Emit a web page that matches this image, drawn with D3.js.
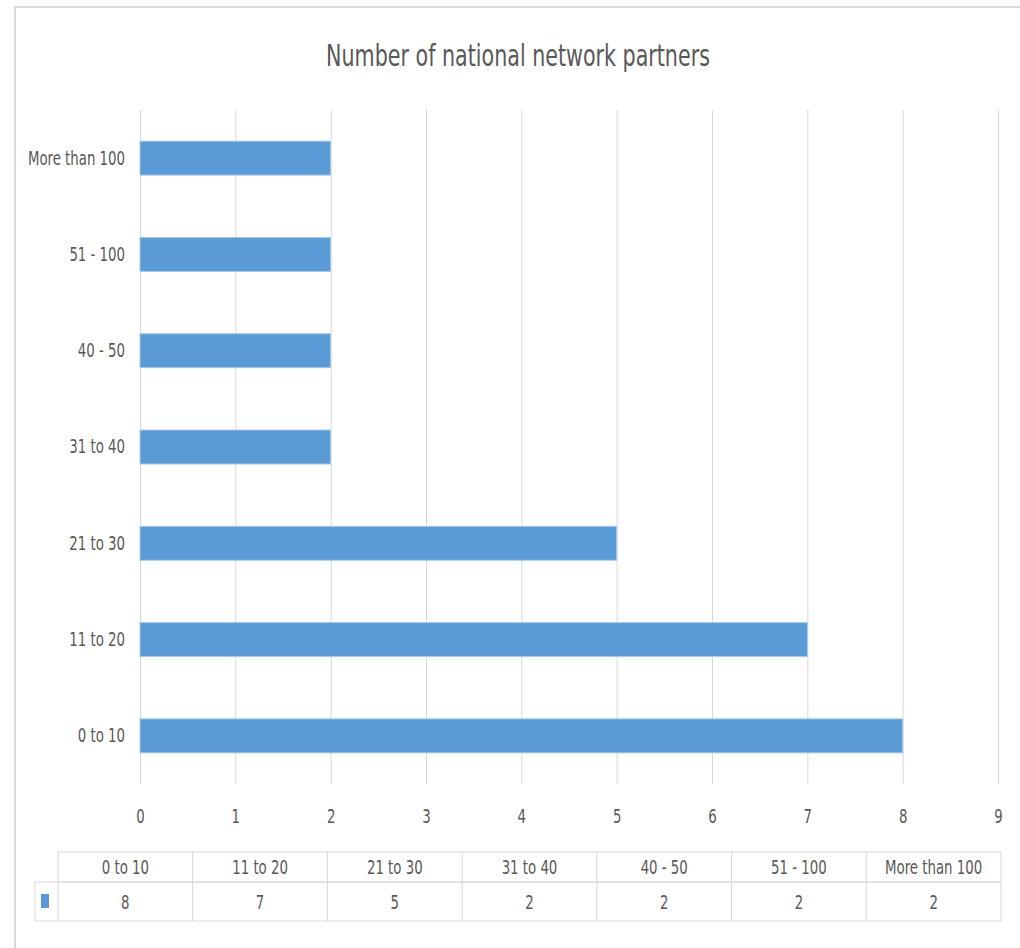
<!DOCTYPE html>
<html>
<head>
<meta charset="utf-8">
<script src="https://cdn.jsdelivr.net/npm/d3@7"></script>
<style>
  body { margin: 0; background: #fff; }
  svg { display: block; }
  text { font-family: 'Liberation Sans Narrow', 'Arial Narrow', 'DejaVu Sans Condensed', sans-serif; fill: #595959; }
</style>
</head>
<body>
<svg id="chart"></svg>
<script>
// Data
const categories = ['0 to 10', '11 to 20', '21 to 30', '31 to 40', '40 - 50', '51 - 100', 'More than 100'];
const values = [8, 7, 5, 2, 2, 2, 2];
const xTicks = [0, 1, 2, 3, 4, 5, 6, 7, 8, 9];
const title = 'Number of national network partners';

const data = categories.map((c, i) => ({ category: c, value: values[i] }));

const width = 1020, height = 948;
const plot = { left: 140, right: 998, top: 110, bottom: 784 };
const barColor = '#5b9bd5';
const gridColor = '#d9d9d9';
const squeezeFactor = 0.74; // the original font is a narrow one

const svg = d3.select('#chart')
  .attr('width', width)
  .attr('height', height);

// squash text horizontally so the wide fallback font looks narrow
function squeeze(sel) {
  sel.each(function() {
    const len = this.getComputedTextLength();
    d3.select(this)
      .attr('textLength', len * squeezeFactor)
      .attr('lengthAdjust', 'spacingAndGlyphs');
  });
}

// outer chart border (only top and left are inside the picture)
svg.append('path')
  .attr('d', `M15,${height} L15,7 L${width},7`)
  .attr('fill', 'none')
  .attr('stroke', gridColor)
  .attr('stroke-width', 2);

// Title
svg.append('text')
  .attr('x', 518)
  .attr('y', 66)
  .attr('text-anchor', 'middle')
  .style('font-size', '31px')
  .text(title)
  .call(squeeze);

// Scales
const xScale = d3.scaleLinear()
  .domain([0, 9])
  .range([plot.left, plot.right]);

const yScale = d3.scaleBand()
  .domain(categories.slice().reverse())
  .range([plot.top, plot.bottom])
  .paddingInner(0.647)
  .paddingOuter(0.3235);

// Vertical gridlines + tick labels
const xAxis = svg.append('g')
  .attr('class', 'x-axis')
  .attr('transform', `translate(0,${plot.bottom})`)
  .call(d3.axisBottom(xScale).tickValues(xTicks).tickSize(-(plot.bottom - plot.top)).tickPadding(25).tickFormat(d3.format('d')));

xAxis.select('.domain').remove();
xAxis.selectAll('.tick line').attr('stroke', gridColor).attr('stroke-width', 1);
xAxis.selectAll('.tick text')
  .attr('fill', '#595959')
  .style('font-size', '20px')
  .style('font-family', null)
  .call(squeeze);

// Bars
svg.selectAll('.bar')
  .data(data)
  .enter().append('rect')
  .attr('class', 'bar')
  .attr('x', xScale(0))
  .attr('y', d => yScale(d.category))
  .attr('width', d => xScale(d.value) - xScale(0))
  .attr('height', yScale.bandwidth())
  .attr('fill', barColor)
  .attr('stroke', '#a9c9ea')
  .attr('stroke-width', 1);

// Category labels
const yAxis = svg.append('g')
  .attr('class', 'y-axis')
  .attr('transform', `translate(${plot.left},0)`)
  .call(d3.axisLeft(yScale).tickSize(0).tickPadding(15));

yAxis.select('.domain').remove();
yAxis.selectAll('.tick text')
  .attr('fill', '#595959')
  .style('font-size', '20px')
  .style('font-family', null)
  .call(squeeze);

// Data table under the chart
const table = { left: 58, right: 1001, keyLeft: 35, top: 852, mid: 882, bottom: 921 };
const colScale = d3.scaleBand()
  .domain(categories)
  .range([table.left, table.right]);

const tg = svg.append('g').attr('class', 'data-table');

// header row border
tg.append('rect')
  .attr('x', table.left)
  .attr('y', table.top)
  .attr('width', table.right - table.left)
  .attr('height', table.mid - table.top)
  .attr('fill', 'none')
  .attr('stroke', gridColor);

// value row border (includes legend key cell)
tg.append('rect')
  .attr('x', table.keyLeft)
  .attr('y', table.mid)
  .attr('width', table.right - table.keyLeft)
  .attr('height', table.bottom - table.mid)
  .attr('fill', 'none')
  .attr('stroke', gridColor);

// column separators
tg.selectAll('.col-sep')
  .data(categories.slice(1))
  .enter().append('line')
  .attr('class', 'col-sep')
  .attr('x1', d => colScale(d))
  .attr('x2', d => colScale(d))
  .attr('y1', table.top)
  .attr('y2', table.bottom)
  .attr('stroke', gridColor);

// key cell separator
tg.append('line')
  .attr('x1', table.left).attr('x2', table.left)
  .attr('y1', table.mid).attr('y2', table.bottom)
  .attr('stroke', gridColor);

// legend key
tg.append('rect')
  .attr('x', 41)
  .attr('y', 894)
  .attr('width', 8)
  .attr('height', 14)
  .attr('fill', barColor);

tg.selectAll('.head')
  .data(data)
  .enter().append('text')
  .attr('class', 'head')
  .attr('x', d => colScale(d.category) + colScale.bandwidth() / 2)
  .attr('y', (table.top + table.mid) / 2)
  .attr('dy', '0.35em')
  .attr('text-anchor', 'middle')
  .style('font-size', '20px')
  .text(d => d.category)
  .call(squeeze);

tg.selectAll('.val')
  .data(data)
  .enter().append('text')
  .attr('class', 'val')
  .attr('x', d => colScale(d.category) + colScale.bandwidth() / 2)
  .attr('y', (table.mid + table.bottom) / 2)
  .attr('dy', '0.35em')
  .attr('text-anchor', 'middle')
  .style('font-size', '20px')
  .text(d => d.value)
  .call(squeeze);
</script>
</body>
</html>
